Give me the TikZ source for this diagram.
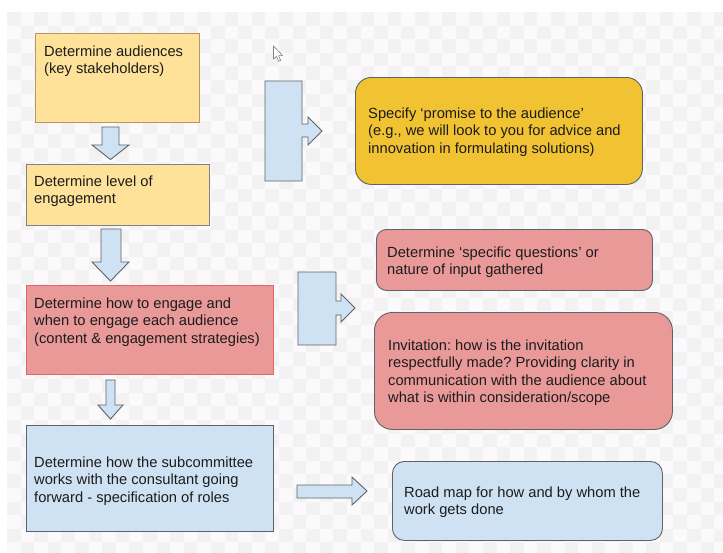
\documentclass[tikz,border=0pt]{standalone}
\usepackage{fontspec}
\setmainfont{Liberation Sans}
\frenchspacing
\definecolor{bgA}{HTML}{FBF9FC}
\definecolor{bgB}{HTML}{F2F2F3}
\definecolor{ylight}{HTML}{FFE29A}
\definecolor{ydark}{HTML}{F1C232}
\definecolor{pinkf}{HTML}{EA9999}
\definecolor{redline}{HTML}{E06666}
\definecolor{bluef}{HTML}{CFE2F3}
\definecolor{edge}{HTML}{5F6368}
\definecolor{yedge}{HTML}{B89566}
\definecolor{txt}{HTML}{1C1C1C}
\tikzset{
  boxbase/.style={draw=edge, line width=0.9pt, inner sep=0pt, anchor=north west},
  txtnode/.style={anchor=north west, inner sep=0pt, align=left, text=txt,
    font=\fontsize{14.7}{17.6}\selectfont},
  blockarrow/.style={draw=edge, line width=0.9pt, fill=bluef, line join=miter},
}
\begin{document}
\begin{tikzpicture}[x=1pt,y=-1pt]
\useasboundingbox (0,0) rectangle (723,552);
\fill[white] (0,0) rectangle (723,552);
\fill[bgA] (7,12) rectangle (723,552);
\begin{scope}
\clip (7,12) rectangle (723,552);
\foreach \i in {0,...,52}{
  \foreach \j in {0,...,39}{
    \pgfmathtruncatemacro{\chk}{mod(\i+\j,2)}
    \ifnum\chk=0
      \fill[bgB] ({7+\i*13.6},{12+\j*13.6}) rectangle ++(13.6,13.6);
    \fi
  }
}
\end{scope}

% left column boxes
\node[boxbase, draw=yedge, fill=ylight, minimum width=164pt, minimum height=89pt] (b1) at (35,33) {};
\node[txtnode] (t1) at (44,45.3) {Determine audiences\\(key stakeholders)};

\node[boxbase, draw=edge!80, fill=ylight, minimum width=183pt, minimum height=61pt] (b2) at (26,164) {};
\node[txtnode] (t2) at (34,175.3) {Determine level of\\engagement};

\node[boxbase, draw=redline, fill=pinkf, minimum width=247pt, minimum height=89pt] (b3) at (26,285) {};
\node[txtnode] (t3) at (34,297.3) {Determine how to engage and\\when to engage each audience\\(content \& engagement strategies)};

\node[boxbase, fill=bluef, minimum width=247pt, minimum height=106pt] (b4) at (26,425) {};
\node[txtnode] (t4) at (34,456.3) {Determine how the subcommittee\\works with the consultant going\\forward - specification of roles};

% right column rounded boxes
\node[boxbase, fill=ydark, rounded corners=16pt, minimum width=287pt, minimum height=107pt] (r1) at (355,77) {};
\node[txtnode] (s1) at (368,107.3) {Specify ‘promise to the audience’\\(e.g., we will look to you for advice and\\innovation in formulating solutions)};

\node[boxbase, fill=pinkf, rounded corners=10pt, minimum width=276pt, minimum height=61pt] (r2) at (376,229) {};
\node[txtnode] (s2) at (387,246.3) {Determine ‘specific questions’ or\\nature of input gathered};

\node[boxbase, fill=pinkf, rounded corners=18pt, minimum width=298pt, minimum height=117pt] (r3) at (374,312) {};
\node[txtnode] (s3) at (388,339.3) {Invitation: how is the invitation\\respectfully made? Providing clarity in\\communication with the audience about\\what is within consideration/scope};

\node[boxbase, fill=bluef, rounded corners=12pt, minimum width=270pt, minimum height=79pt] (r4) at (392,461) {};
\node[txtnode] (s4) at (404,486.3) {Road map for how and by whom the\\work gets done};

% down arrows
\draw[blockarrow] (102,127) -- (119,127) -- (119,145) -- (129,145) -- (110.5,159.5) -- (92,145) -- (102,145) -- cycle;
\draw[blockarrow] (101,229) -- (121,229) -- (121,262) -- (129,262) -- (110.5,281) -- (92,262) -- (101,262) -- cycle;
\draw[blockarrow] (106,380) -- (115,380) -- (115,405) -- (123,405) -- (110.5,419) -- (98,405) -- (106,405) -- cycle;

% bracket arrows
\draw[blockarrow] (265,81) -- (302,81) -- (302,124) -- (308,124) -- (308,117) -- (322,131) -- (308,145) -- (308,137) -- (302,137) -- (302,181) -- (265,181) -- cycle;
\draw[blockarrow] (298,272) -- (336,272) -- (336,301) -- (341,301) -- (341,294) -- (355,308) -- (341,322) -- (341,315) -- (336,315) -- (336,345) -- (298,345) -- cycle;

% right arrow
\draw[blockarrow] (297,485) -- (352,485) -- (352,477) -- (367,491) -- (352,505) -- (352,498) -- (297,498) -- cycle;

% cursor
\draw[fill=white, draw=gray, line width=0.6pt, line join=round] (273.5,46) -- (273.5,59) -- (276.5,56.5) -- (278.7,61.3) -- (280.6,60.4) -- (278.5,55.7) -- (282.5,55.5) -- cycle;
\end{tikzpicture}
\end{document}
